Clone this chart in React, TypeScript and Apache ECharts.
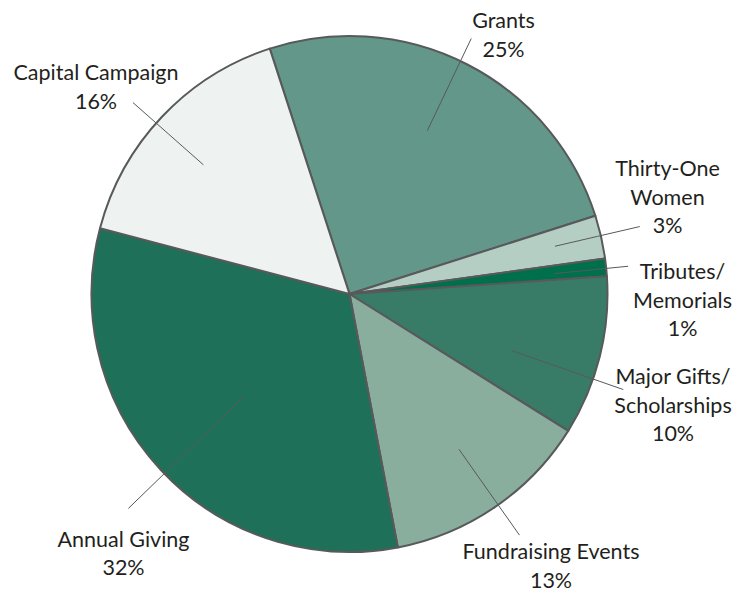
import React, { useEffect, useRef } from 'react';
import * as echarts from 'echarts';

const categories = [
  'Grants',
  'Thirty-One\nWomen',
  'Tributes/\nMemorials',
  'Major Gifts/\nScholarships',
  'Fundraising Events',
  'Annual Giving',
  'Capital Campaign',
];
const values = [25.1, 2.7, 1.1, 10.0, 13.1, 32.1, 15.9];
const sliceColors = ['#62978A', '#B5CEC4', '#006F4C', '#387C67', '#89AE9E', '#1F7058', '#EEF3F1'];

// layout (not data)
const START = -18; // degrees clockwise from 12 o'clock
const CX = 349.5;
const CY = 294;
const R = 258;
const leaderShift = [-1.7, -0.3, 0.25, 5.2, -0.8, -1.1, -1.9];
const leaderInner = [181, 211, 206, 172, 190, 147, 195];
const leaderOuter = [283, 298, 280, 290, 295, 308, 289];
const labelDX = [154, 318, 333, 323.5, 201.5, -226, -253.5];
const labelDY = [-259.7, -97.5, 5.7, 110.7, 271.5, 259, -207.7];

export default function App() {
  const ref = useRef<HTMLDivElement>(null);
  useEffect(() => {
    document.body.style.margin = '0';
    const chart = echarts.init(ref.current!, null, { renderer: 'svg' });
    const total = values.reduce((a, b) => a + b, 0);
    const mids: number[] = [];
    let acc = START;
    values.forEach((v) => {
      const span = (v / total) * 360;
      mids.push(acc + span / 2);
      acc += span;
    });
    const polar = (deg: number, r: number) => {
      const a = (deg * Math.PI) / 180;
      return [CX + r * Math.sin(a), CY - r * Math.cos(a)];
    };
    const common = {
      type: 'pie',
      center: [CX, CY],
      radius: R,
      startAngle: 90 - START,
      clockwise: true,
      avoidLabelOverlap: false,
      emphasis: { disabled: true },
    };
    chart.setOption({
      animation: false,
      series: [
        {
          ...common,
          z: 2,
          data: categories.map((name, i) => ({
            name,
            value: values[i],
            itemStyle: { color: sliceColors[i] },
          })),
          itemStyle: { borderColor: '#58595B', borderWidth: 2 },
          label: { show: false },
          labelLine: { show: false },
        },
        {
          ...common,
          z: 5,
          silent: true,
          data: categories.map((name, i) => ({ name, value: values[i] })),
          itemStyle: { color: 'rgba(0,0,0,0)', borderWidth: 0 },
          label: {
            show: true,
            position: 'outside',
            formatter: (p: any) => `${p.name}\n${Math.round(p.percent)}%`,
            color: '#231F20',
            fontFamily: 'Lato',
            fontSize: 21.5,
            lineHeight: 28.5,
            align: 'center',
          },
          labelLine: { show: true, lineStyle: { color: '#58595B', width: 1 } },
          labelLayout: (params: any) => {
            const i = params.dataIndex;
            const ang = mids[i] + leaderShift[i];
            const midR = (leaderInner[i] + leaderOuter[i]) / 2;
            return {
              x: CX + labelDX[i],
              y: CY + labelDY[i],
              align: 'center',
              verticalAlign: 'middle',
              labelLinePoints: [polar(ang, leaderInner[i]), polar(ang, midR), polar(ang, leaderOuter[i])],
            };
          },
        },
      ],
    });
    return () => chart.dispose();
  }, []);
  return <div ref={ref} style={{ width: 749, height: 592 }} />;
}
